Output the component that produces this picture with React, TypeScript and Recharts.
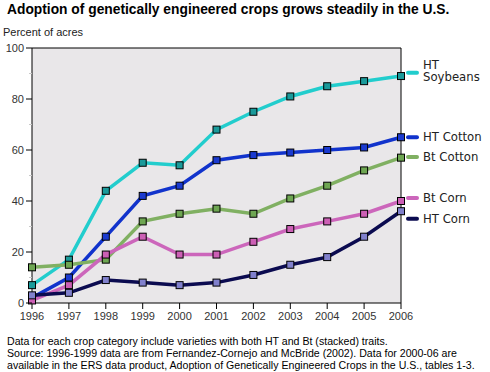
import React from "react";
import { LineChart, Line, XAxis, YAxis, CartesianGrid, ReferenceLine } from "recharts";

const years = [1996, 1997, 1998, 1999, 2000, 2001, 2002, 2003, 2004, 2005, 2006];
const htSoybeans = [7, 17, 44, 55, 54, 68, 75, 81, 85, 87, 89];
const htCotton = [2, 10, 26, 42, 46, 56, 58, 59, 60, 61, 65];
const btCotton = [14, 15, 17, 32, 35, 37, 35, 41, 46, 52, 57];
const btCorn = [1, 7, 19, 26, 19, 19, 24, 29, 32, 35, 40];
const htCorn = [3, 4, 9, 8, 7, 8, 11, 15, 18, 26, 36];
const yTicks = [0, 10, 20, 30, 40, 50, 60, 70, 80, 90, 100];

const data = years.map((year, i) => ({
  year,
  htSoybeans: htSoybeans[i],
  htCotton: htCotton[i],
  btCotton: btCotton[i],
  btCorn: btCorn[i],
  htCorn: htCorn[i],
}));

type SeriesDef = {
  key: string;
  name: string[];
  line: string;
  marker: string;
  labelDy: number; // pixel shift of the end label
};

const series: SeriesDef[] = [
  { key: "htSoybeans", name: ["HT", "Soybeans"], line: "#22cdcd", marker: "#1a9a9a", labelDy: -3.4 },
  { key: "htCotton", name: ["HT Cotton"], line: "#1133cc", marker: "#1a3ad0", labelDy: 0 },
  { key: "btCotton", name: ["Bt Cotton"], line: "#80b062", marker: "#6ea652", labelDy: -0.6 },
  { key: "btCorn", name: ["Bt Corn"], line: "#cc66bb", marker: "#cc5fb5", labelDy: -3 },
  { key: "htCorn", name: ["HT Corn"], line: "#0b0b50", marker: "#8080cc", labelDy: 7.6 },
];

const SquareDot = (color: string) => (props: any) => {
  const { cx, cy, index } = props;
  if (cx == null || cy == null) return <g key={index} />;
  return (
    <rect
      key={index}
      x={cx - 3.5}
      y={cy - 3.5}
      width={7}
      height={7}
      fill={color}
      stroke="#000"
      strokeWidth={1}
    />
  );
};

const EndLabel = (s: SeriesDef) => (props: any) => {
  const { x, y, index } = props;
  if (index !== years.length - 1 || x == null || y == null) return <g key={index} />;
  const ly = y + s.labelDy;
  const tx = x + 22;
  return (
    <g key={index}>
      <line x1={x + 7} x2={x + 16} y1={ly} y2={ly} stroke={s.line} strokeWidth={4} strokeLinecap="round" />
      {s.name.length === 1 ? (
        <text x={tx} y={ly + 4} fontFamily="DejaVu Sans" fontSize={11.7} fill="#222">
          {s.name[0]}
        </text>
      ) : (
        <text fontFamily="DejaVu Sans" fontSize={11.7} fill="#222">
          <tspan x={tx} y={ly - 3.5}>{s.name[0]}</tspan>
          <tspan x={tx} y={ly + 8}>{s.name[1]}</tspan>
        </text>
      )}
    </g>
  );
};

const YTick = (props: any) => {
  const { x, y, payload } = props;
  const v = payload.value;
  const major = v % 20 === 0;
  return (
    <g>
      {major ? (
        <>
          <line x1={x + 2} x2={x + 8} y1={y} y2={y} stroke="#000" strokeWidth={1} />
          <text x={x} y={y + 4} textAnchor="end" fontFamily="Liberation Sans, Arial" fontSize={11} fill="#333">
            {v}
          </text>
        </>
      ) : (
        <line x1={x + 5} x2={x + 8} y1={y} y2={y} stroke="#c8c8c8" strokeWidth={1} />
      )}
    </g>
  );
};

export default function App() {
  return (
    <div
      style={{
        position: "absolute",
        left: 0,
        top: 0,
        width: 490,
        height: 372,
        background: "#fff",
        fontFamily: "'Liberation Sans', Arial, sans-serif",
        overflow: "hidden",
      }}
    >
      <div style={{ position: "absolute", left: 7, top: 2, fontSize: 13.8, fontWeight: "bold", color: "#000", whiteSpace: "nowrap" }}>
        Adoption of genetically engineered crops grows steadily in the U.S.
      </div>
      <div style={{ position: "absolute", left: 3, top: 26, fontSize: 11, color: "#222", whiteSpace: "nowrap" }}>
        Percent of acres
      </div>
      <div style={{ position: "absolute", left: 0, top: 0 }}>
        <LineChart
          width={490}
          height={372}
          data={data}
          margin={{ top: 48, right: 89, bottom: 39, left: 0 }}
        >
          <CartesianGrid horizontal={false} vertical={false} fill="#e9e7e9" />
          <XAxis
            dataKey="year"
            type="number"
            domain={[1996, 2006]}
            ticks={years}
            interval={0}
            height={30}
            tickSize={6}
            tickMargin={3}
            axisLine={{ stroke: "#000" }}
            tickLine={{ stroke: "#000" }}
            tick={{ fill: "#333", fontSize: 11, fontFamily: "Liberation Sans, Arial" }}
          />
          <YAxis
            type="number"
            domain={[0, 100]}
            ticks={yTicks}
            interval={0}
            width={32}
            tickSize={6}
            tickMargin={2}
            tickLine={false}
            axisLine={{ stroke: "#000" }}
            tick={<YTick />}
          />
          <ReferenceLine y={100} stroke="#000" strokeWidth={1} />
          <ReferenceLine x={2006} stroke="#000" strokeWidth={1} />
          {series.map((s) => (
            <Line
              key={s.key}
              dataKey={s.key}
              stroke={s.line}
              strokeWidth={3.5}
              dot={SquareDot(s.marker)}
              activeDot={false}
              label={EndLabel(s)}
              isAnimationActive={false}
            />
          ))}
        </LineChart>
      </div>
      <div style={{ position: "absolute", left: 7, top: 335, fontSize: 10.6, lineHeight: "12px", color: "#000", whiteSpace: "nowrap" }}>
        <div>Data for each crop category include varieties with both HT and Bt (stacked) traits.</div>
        <div>Source: 1996-1999 data are from Fernandez-Cornejo and McBride (2002). Data for 2000-06 are</div>
        <div>available in the ERS data product, Adoption of Genetically Engineered Crops in the U.S., tables 1-3.</div>
      </div>
    </div>
  );
}
